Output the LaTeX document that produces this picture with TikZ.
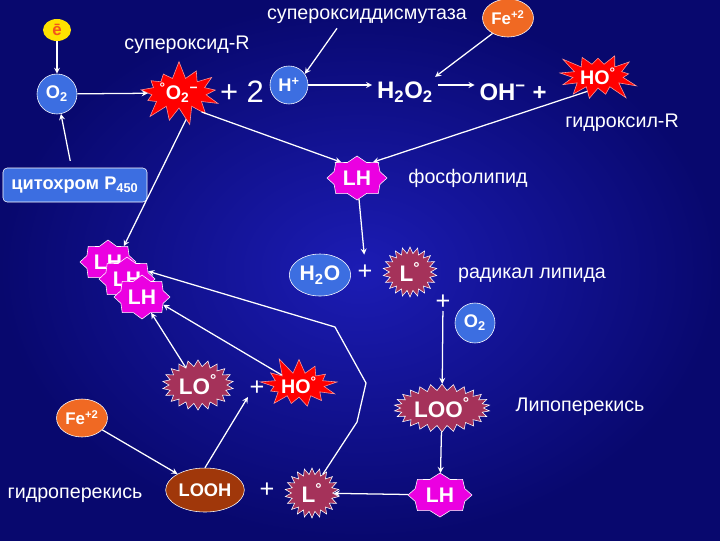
\documentclass[tikz,border=0pt]{standalone}
\usepackage{fontspec}
\setmainfont{Liberation Sans}
\usetikzlibrary{positioning}
\usetikzlibrary{calc}
\usetikzlibrary{shapes.geometric}
\usetikzlibrary{shapes.symbols}
\usetikzlibrary{arrows}
\definecolor{bgdark}{RGB}{8,8,110}
\definecolor{bgmid}{RGB}{28,28,180}
\definecolor{moleblue}{RGB}{60,110,225}
\definecolor{lipidpink}{RGB}{235,0,225}
\definecolor{radicalred}{RGB}{165,50,90}
\definecolor{ironorange}{RGB}{240,105,35}
\definecolor{loohbrown}{RGB}{160,55,10}
\definecolor{electronyellow}{RGB}{255,225,0}
\tikzset{
    % Small white arrows between the species
    >=stealth,
    flow/.style={draw=white, line width=0.9pt, ->},
%
    % Plain white captions beside the species
    caption/.style={text=white, font=\fontsize{14}{16}\selectfont},
%
    % Plus signs and the like
    sign/.style={text=white, font=\fontsize{18}{20}\selectfont, inner sep=1pt},
%
    % Large formulae with no frame
    formula/.style={text=white, font=\bfseries\fontsize{17}{19}\selectfont},
%
    % Blue discs for oxygen, protons and water
    blue disc/.style={circle, draw=white, thin, fill=moleblue, text=white,
        font=\bfseries\fontsize{13}{15}\selectfont, inner sep=1pt,
        minimum size=10mm},
%
    % Orange iron discs
    iron disc/.style={ellipse, draw=white, thin, fill=ironorange, text=white,
        font=\bfseries\fontsize{12}{14}\selectfont, inner sep=1pt,
        minimum width=11.5mm, minimum height=9.5mm},
%
    % Eight pointed lipid stars, blunt
    lipid star/.style={starburst, random starburst=0, starburst points=8,
        starburst point height=1.3mm, draw=white, thin, fill=lipidpink,
        text=white, inner sep=0pt, minimum width=15mm, minimum height=11mm,
        font=\bfseries\fontsize{15}{17}\selectfont},
%
    % Lipid radicals with many small points
    radical burst/.style={starburst, random starburst=0, starburst points=22,
        starburst point height=1.6mm, draw=white, thin, fill=radicalred,
        text=white, inner sep=1pt,
        font=\bfseries\fontsize{16}{18}\selectfont},
%
    % Red spiky radicals
    red burst/.style={starburst, starburst points=13,
        starburst point height=4.5mm, draw=red!40!white, thin, fill=red,
        text=white, inner sep=0pt,
        font=\bfseries\fontsize{14}{16}\selectfont}}

\begin{document}
\begin{tikzpicture}[x=0.025cm, y=-0.025cm]

\shade [inner color=bgmid, outer color=bgdark] (0,0) rectangle (720,540);
\useasboundingbox (0,0) rectangle (720,540);

% upper chain
\node [ellipse, fill=electronyellow, inner sep=1pt, minimum width=7mm,
    minimum height=5.5mm, text=ironorange!80!red,
    font=\bfseries\fontsize{12}{14}\selectfont] (e) at (57,30) {ē};
\node [blue disc] (o2) at (57,94) {O\textsubscript{2}};
\draw [flow] (e) -- (o2);

\node [caption] (superox label) at (187,45) {супероксид-R};
\node [red burst, random starburst=7, minimum width=17mm,
    minimum height=16.5mm] (superox) at (179,93)
    {\textsuperscript{°}O\textsubscript{2}\textsuperscript{−}};
\draw [flow] (o2) -- (superox);

\node [sign, font=\fontsize{22}{24}\selectfont] (two) at (242,92) {+ 2};
\node [blue disc, minimum size=9.5mm] (hplus) at (289,85) {H\textsuperscript{+}};

\node [caption] (sod) at (367,16) {супероксиддисмутаза};
\node [iron disc] (fe top) at (508,18) {Fe\textsuperscript{+2}};

\node [formula] (h2o2) at (405,92) {H\textsubscript{2}O\textsubscript{2}};
\draw [flow] ($(sod.south)+(-30,0)$) -- (hplus.35);
\draw [flow] (hplus.east) -- (hplus.east -| h2o2.west);
\draw [flow] (fe top.225) -- ([xshift=-2pt]h2o2.north east);

\node [formula] (oh) at (513,92) {OH\textsuperscript{−} +};
\draw [flow] ([yshift=5pt]h2o2.east) -- ([yshift=5pt]h2o2.east -| oh.west);

\node [red burst, random starburst=3, minimum width=13.5mm,
    minimum height=14mm] (ho top) at (598,76) {HO\textsuperscript{°}};
\node [caption] (hydroxyl) at (622,123) {гидроксил-R};

% phospholipid and its radical
\node [lipid star] (lh top) at (357,178) {LH};
\node [caption] (phospho) at (468,178) {фосфолипид};
\draw [flow] (ho top.235) -- (lh top.north east);
\draw [flow] (superox.-40) -- (lh top.north west);

\node [draw=white, thin, fill=moleblue, rounded corners=3pt, text=white,
    font=\bfseries\fontsize{13}{15}\selectfont, inner sep=3pt,
    minimum width=36mm, minimum height=8.5mm] (cyto) at (75,185)
    {цитохром P\textsubscript{450}};
\draw [flow, shorten <=5pt] (cyto) -- (o2);

\node [lipid star, minimum width=14mm] (lh a) at (108,262) {LH};
\node [lipid star, minimum width=14mm] (lh b) at (127,279) {LH};
\node [lipid star, minimum width=14mm] (lh c) at (142,297) {LH};
\draw [flow] (superox.-75) -- (lh a.north east);

\node [ellipse, draw=white, thin, fill=moleblue, text=white,
    font=\bfseries\fontsize{15}{17}\selectfont, inner sep=1pt,
    minimum width=14mm, minimum height=10.5mm] (h2o) at (320,275)
    {H\textsubscript{2}O};
\node [sign] (plus h2o) at (365,272) {+};
\draw [flow, shorten >=6pt] (lh top) -- (plus h2o.north);

\node [radical burst, minimum width=13.5mm, minimum height=12.5mm] (l mid)
    at (410,272) {L\textsuperscript{°}};
\node [caption] (lipid radical) at (532,275) {радикал липида};
\node [sign] (plus o2) at (443,302) {+};
\node [blue disc] (o2 low) at (475,323) {O\textsubscript{2}};

% peroxidation cycle
\node [radical burst, starburst points=26, minimum width=23mm,
    minimum height=12mm] (loo) at (442,408) {LOO\textsuperscript{°}};
\node [caption] (lipoperox) at (580,407) {Липоперекись};
\draw [flow] (plus o2) -- (loo);

\node [lipid star, minimum width=16mm] (lh low) at (440,495) {LH};
\draw [flow] (loo) -- (lh low);

\node [radical burst, minimum width=13.5mm, minimum height=12.5mm] (l low)
    at (312,493) {L\textsuperscript{°}};
\draw [flow] (lh low) -- (l low);
\node [sign] (plus l) at (267,490) {+};

\node [ellipse, draw=white, thin, fill=loohbrown, text=white,
    font=\bfseries\fontsize{13}{15}\selectfont, inner sep=1pt,
    minimum width=18mm, minimum height=11mm] (looh) at (205,490) {LOOH};
\node [caption] (hydroperox) at (75,495) {гидроперекись};

\node [iron disc] (fe low) at (82,418) {Fe\textsuperscript{+2}};
\draw [flow] (fe low) -- (looh);

\node [radical burst, minimum width=17.5mm, minimum height=12.5mm] (lo)
    at (198,385) {LO\textsuperscript{°}};
\node [sign] (plus lo) at (257,388) {+};
\node [red burst, random starburst=11, minimum width=15mm,
    minimum height=15mm] (ho low) at (299,385) {HO\textsuperscript{°}};
\draw [flow] (looh.north) -- (plus lo.south west);

\draw [flow] (lo.125) -- (lh c.-60);
\draw [flow] (ho low.150) -- (lh c.-20);
\draw [flow] (l low.60) -- (357,422) -- (366,383) -- (335,327) -- (lh b.20);

\end{tikzpicture}
\end{document}
